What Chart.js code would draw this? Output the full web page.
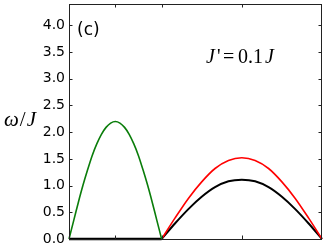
<!DOCTYPE html>
<html>
<head>
<script src="https://cdn.jsdelivr.net/npm/chart.js"></script>
<style>
  html, body { margin: 0; padding: 0; background: #fff; }
  #wrap { width: 327px; height: 245px; }
</style>
</head>
<body>
<div id="wrap"><canvas id="c"></canvas></div>
<script>
// momentum path (arbitrary units) and energies omega/J
const leftK = [0, 0.05, 0.1, 0.15, 0.2, 0.25, 0.3, 0.35, 0.4, 0.45, 0.5,
               0.55, 0.6, 0.65, 0.7, 0.75, 0.8, 0.85, 0.9, 0.95, 1.0];
const greenW = [0, 0.34, 0.68, 1.00, 1.29, 1.56, 1.78, 1.96, 2.09, 2.17, 2.20,
                2.17, 2.09, 1.96, 1.78, 1.56, 1.29, 1.00, 0.68, 0.34, 0];
const flatK = [0, 1.0];
const flatW = [0, 0];
const rightK = [1.0, 1.144, 1.289, 1.433, 1.577, 1.722, 1.866,
                2.010, 2.155, 2.299, 2.443, 2.588, 2.732];
const redW = [0, 0.39, 0.76, 1.07, 1.32, 1.47, 1.52, 1.47, 1.32, 1.07, 0.76, 0.39, 0];
const blackW = [0, 0.29, 0.56, 0.79, 0.97, 1.08, 1.11, 1.08, 0.97, 0.79, 0.56, 0.29, 0];
const xTickVals = [0.5, 1.0, 1.866];
const yTickVals = [0, 0.5, 1.0, 1.5, 2.0, 2.5, 3.0, 3.5, 4.0];

function pts(xs, ys) { return xs.map((x, i) => ({x: x, y: ys[i]})); }

// frame, inward ticks and text labels
const decor = {
  id: 'decor',
  afterDraw(chart) {
    const ctx = chart.ctx, a = chart.chartArea;
    const xs = chart.scales.x, ys = chart.scales.y;
    ctx.save();
    ctx.strokeStyle = '#222';
    ctx.lineWidth = 1;
    ctx.strokeRect(a.left + 0.5, a.top + 0.5, a.right - a.left - 1, a.bottom - a.top);
    ctx.beginPath();
    xTickVals.forEach(v => {
      const px = Math.round(xs.getPixelForValue(v)) + 0.5;
      ctx.moveTo(px, a.bottom); ctx.lineTo(px, a.bottom - 3.5);
      ctx.moveTo(px, a.top); ctx.lineTo(px, a.top + 3.5);
    });
    yTickVals.forEach(v => {
      const py = Math.round(ys.getPixelForValue(v)) + 0.5;
      ctx.moveTo(a.left, py); ctx.lineTo(a.left + 3.5, py);
      ctx.moveTo(a.right, py); ctx.lineTo(a.right - 3.5, py);
    });
    ctx.stroke();

    ctx.fillStyle = '#000';
    ctx.textBaseline = 'alphabetic';
    ctx.font = '17px "DejaVu Sans"';
    ctx.fillText('(c)', 77, 35);

    // J' = 0.1J
    ctx.font = 'italic 20px "Liberation Serif"';
    ctx.fillText('J', 206, 63);
    ctx.font = '20px "Liberation Serif"';
    ctx.fillText("'", 217, 63);
    ctx.fillText('=', 223, 63);
    ctx.fillText('0.1', 238, 63);
    ctx.font = 'italic 20px "Liberation Serif"';
    ctx.fillText('J', 265, 63);

    // omega / J
    let x = 4;
    ctx.font = 'italic 21px "Liberation Serif"';
    ctx.fillText('\u03c9', x, 126); x += ctx.measureText('\u03c9').width + 1;
    ctx.font = '21px "Liberation Serif"';
    ctx.fillText('/', x, 126); x += ctx.measureText('/').width + 1;
    ctx.font = 'italic 21px "Liberation Serif"';
    ctx.fillText('J', x, 126);
    ctx.restore();
  }
};

new Chart(document.getElementById('c'), {
  type: 'line',
  data: {
    datasets: [
      { data: pts(leftK, greenW), borderColor: '#0a7d0a', borderWidth: 1.6, tension: 0.3 },
      { data: pts(rightK, redW), borderColor: '#ff0000', borderWidth: 1.6, tension: 0.3 },
      { data: pts(rightK, blackW), borderColor: '#000000', borderWidth: 2, tension: 0.3 },
      { data: pts(flatK, flatW), borderColor: '#000000', borderWidth: 2.5, tension: 0 }
    ]
  },
  options: {
    responsive: true,
    maintainAspectRatio: false,
    animation: false,
    clip: false,
    elements: { point: { radius: 0 } },
    layout: { padding: { left: 0, right: 5, top: 4, bottom: 6 } },
    plugins: { legend: { display: false }, tooltip: { enabled: false } },
    scales: {
      x: {
        type: 'linear',
        min: 0,
        max: 2.732,
        ticks: { display: false },
        grid: { display: false, drawTicks: false },
        border: { display: false },
        afterFit(s) { s.height = 0; s.paddingLeft = 0; s.paddingRight = 0; }
      },
      y: {
        min: 0,
        max: 4.4,
        afterBuildTicks(s) { s.ticks = yTickVals.map(v => ({value: v})); },
        ticks: {
          padding: 4,
          color: '#000',
          font: { family: 'DejaVu Sans', size: 14 },
          callback: v => v.toFixed(1)
        },
        grid: { display: false, drawTicks: false },
        border: { display: false },
        afterFit(s) { s.width = 69; s.paddingTop = 0; s.paddingBottom = 0; }
      }
    }
  },
  plugins: [decor]
});
</script>
</body>
</html>
